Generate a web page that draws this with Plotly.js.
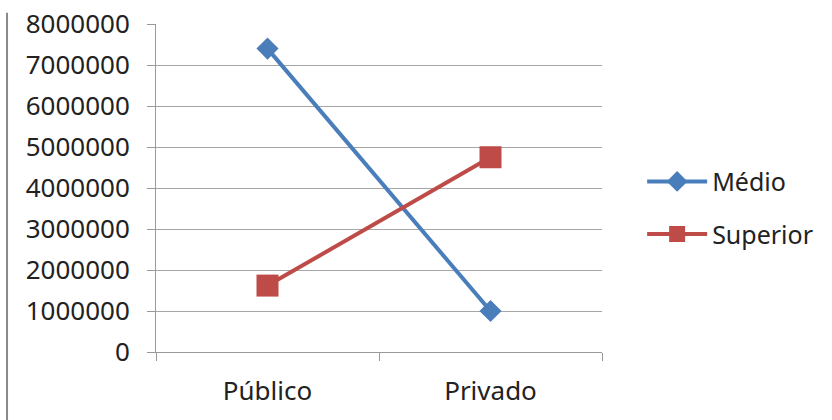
<!DOCTYPE html>
<html>
<head>
<meta charset="utf-8">
<script src="https://cdn.plot.ly/plotly-3.0.1.min.js"></script>
<style>html,body{margin:0;padding:0;background:#fff;}#chart{width:832px;height:420px;}</style>
</head>
<body>
<div id="chart"></div>
<script>
var categories = ["Público", "Privado"];
var medio = [7400000, 1000000];
var superior = [1620000, 4750000];
var yTickValues = [0, 1000000, 2000000, 3000000, 4000000, 5000000, 6000000, 7000000, 8000000];

var font = "Noto Sans, sans-serif";
var traces = [
  {
    x: categories, y: medio, name: "Médio", type: "scatter", mode: "lines+markers",
    legendgroup: "a",
    line: {color: "#4A7EBB", width: 4},
    marker: {symbol: "diamond", size: 17, color: "#4A7EBB"}
  },
  {
    x: categories, y: superior, name: "Superior", type: "scatter", mode: "lines+markers",
    legendgroup: "b",
    line: {color: "#BE4B48", width: 4},
    marker: {symbol: "square", size: 22, color: "#BE4B48"}
  }
];

var layout = {
  width: 832, height: 420,
  margin: {l: 156, r: 230, t: 24, b: 68, autoexpand: false},
  paper_bgcolor: "#fff", plot_bgcolor: "#fff",
  font: {family: font, size: 26, color: "#222"},
  showlegend: true,
  legend: {x: 1.09, y: 0.44, yanchor: "middle", xanchor: "left", itemwidth: 60,
           font: {family: font, size: 25, color: "#222"}, tracegroupgap: 17, bgcolor: "rgba(0,0,0,0)"},
  xaxis: {
    type: "category", range: [-0.5, 1.5],
    showline: true, linecolor: "#999", linewidth: 1,
    ticks: "outside", tickson: "boundaries", ticklen: 8, tickcolor: "#999",
    showgrid: false, zeroline: false, ticklabelstandoff: 16,
    tickfont: {family: font, size: 26, color: "#222"}
  },
  yaxis: {
    range: [0, 8000000], tickvals: yTickValues, tickformat: "d",
    showline: true, linecolor: "#999", linewidth: 1,
    ticks: "outside", ticklen: 8, tickcolor: "#999",
    showgrid: true, gridcolor: "#a6a6a6", gridwidth: 1, zeroline: false,
    ticklabelstandoff: 12,
    tickfont: {family: font, size: 26, color: "#222"}
  },
  shapes: [
    {type: "line", xref: "paper", yref: "paper", x0: -0.334, x1: -0.334, y0: 1.034, y1: -0.21, line: {color: "#888", width: 2}}
  ]
};

Plotly.newPlot("chart", traces, layout, {displayModeBar: false, staticPlot: true});
</script>
</body>
</html>
